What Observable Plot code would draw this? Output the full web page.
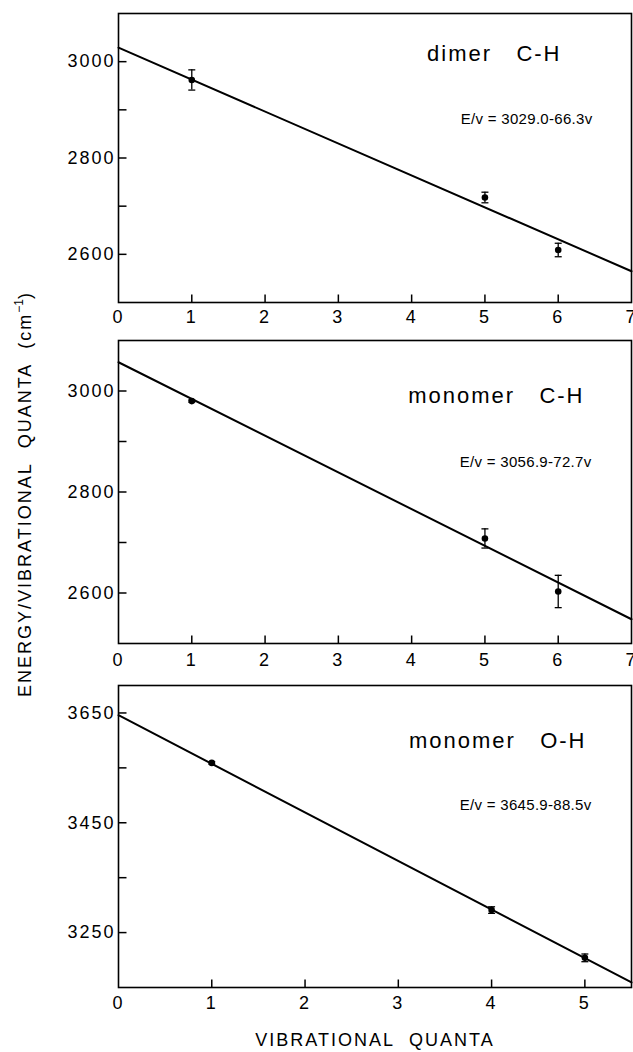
<!DOCTYPE html>
<html><head><meta charset="utf-8">
<script src="https://cdn.jsdelivr.net/npm/d3@7"></script>
<script src="https://cdn.jsdelivr.net/npm/@observablehq/plot@0.6"></script>
<style>
html,body{margin:0;padding:0;background:#fff;}
#wrap{position:relative;width:633px;height:1052px;overflow:hidden;font-family:"Liberation Sans",Arial,Helvetica,sans-serif;color:#000;background:#fff;}
.ytitle{position:absolute;left:-225px;top:484px;width:500px;height:20px;line-height:20px;text-align:center;transform:rotate(-90deg);transform-origin:50% 50%;font-size:18px;letter-spacing:2px;white-space:nowrap;}
.ytitle sup{font-size:12px;letter-spacing:0;vertical-align:0;position:relative;top:-8px;}
.xtitle{position:absolute;left:118px;top:1030px;width:514px;height:20px;line-height:20px;text-align:center;font-size:18px;letter-spacing:2px;white-space:nowrap;}
</style></head><body><div id="wrap"></div>
<script>
const FONT = '"Liberation Sans", Arial, Helvetica, sans-serif';

// ---- data ----
const panelNames = ["dimer\u00a0\u00a0\u00a0C-H", "monomer\u00a0\u00a0\u00a0C-H", "monomer\u00a0\u00a0\u00a0O-H"];
const equations = ["E/v = 3029.0-66.3v", "E/v = 3056.9-72.7v", "E/v = 3645.9-88.5v"];
const intercepts = [3029.0, 3056.9, 3645.9];
const slopes = [-66.3, -72.7, -88.5];
const quanta = [[1, 5, 6], [1, 5, 6], [1, 4, 5]];
const energies = [[2962, 2718, 2609], [2980, 2708, 2603], [3559, 3291, 3204]];
const errors = [[21, 11, 14], [2, 19, 32], [2, 6, 7]];
const xDomains = [[0, 7], [0, 7], [0, 5.5]];
const yDomains = [[2500, 3100], [2500, 3100], [3150, 3700]];
const xTickLabels = [[0, 1, 2, 3, 4, 5, 6, 7], [0, 1, 2, 3, 4, 5, 6, 7], [0, 1, 2, 3, 4, 5]];
const xTicks = [[1, 2, 3, 4, 5, 6], [1, 2, 3, 4, 5, 6], [1, 2, 3, 4, 5]];
const yTickLabels = [[2600, 2800, 3000], [2600, 2800, 3000], [3250, 3450, 3650]];
const yTicks = [[2600, 2700, 2800, 2900, 3000], [2600, 2700, 2800, 2900, 3000], [3250, 3350, 3450, 3550, 3650]];
const yTitle = "ENERGY/VIBRATIONAL\u00a0\u00a0QUANTA\u00a0\u00a0(cm";
const xTitle = "VIBRATIONAL\u00a0\u00a0QUANTA";

// ---- layout ----
const W = 633, ML = 118, MR = 2, TICK = 8;
const layouts = [
  {top: 0, mt: 13, h: 327, mb: 25, xpad: 8, name: [-70, 40], eq: [-39, 106]},
  {top: 327, mt: 13, h: 341, mb: 25, xpad: 10, name: [-47, 55], eq: [-40, 122]},
  {top: 668, mt: 17, h: 349, mb: 30, xpad: 9, name: [-45, 55], eq: [-40, 120]}
];

const capSymbol = {
  draw(context, size) {
    const r = Math.sqrt(size / Math.PI);
    context.moveTo(-r, 0);
    context.lineTo(r, 0);
  }
};
const tickRight = {draw(context) { context.moveTo(0, 0); context.lineTo(TICK, 0); }};
const tickUp = {draw(context) { context.moveTo(0, 0); context.lineTo(0, -TICK); }};

const wrap = document.getElementById("wrap");

layouts.forEach((L, i) => {
  const pts = quanta[i].map((x, j) => ({x, y: energies[i][j], err: errors[i][j]}));
  const xd = xDomains[i];
  const fit = xd.map(x => ({x, y: intercepts[i] + slopes[i] * x}));
  const chart = Plot.plot({
    width: W,
    height: L.h,
    marginLeft: ML,
    marginRight: MR,
    marginTop: L.mt,
    marginBottom: L.mb,
    x: {domain: xd},
    y: {domain: yDomains[i]},
    style: {fontFamily: FONT, fontSize: "18px", color: "#000", background: "#fff", overflow: "visible", letterSpacing: "2px"},
    marks: [
      Plot.axisY({ticks: yTickLabels[i], tickSize: 0, tickPadding: 3, label: null, tickFormat: d => String(d)}),
      Plot.axisX({ticks: xTickLabels[i], tickSize: 0, tickPadding: L.xpad, label: null, tickFormat: d => String(d)}),
      Plot.dot(yTicks[i], {y: d => d, frameAnchor: "left", symbol: tickRight, r: 4, fill: "none", stroke: "#000", strokeWidth: 1.5}),
      Plot.dot(xTicks[i], {x: d => d, frameAnchor: "bottom", symbol: tickUp, r: 4, fill: "none", stroke: "#000", strokeWidth: 1.5}),
      Plot.line(fit, {x: "x", y: "y", stroke: "#000", strokeWidth: 2}),
      Plot.ruleX(pts, {x: "x", y1: d => d.y - d.err, y2: d => d.y + d.err, stroke: "#000", strokeWidth: 1.3}),
      Plot.dot(pts, {x: "x", y: d => d.y - d.err, symbol: capSymbol, r: 3.5, fill: "none", stroke: "#000", strokeWidth: 1.3}),
      Plot.dot(pts, {x: "x", y: d => d.y + d.err, symbol: capSymbol, r: 3.5, fill: "none", stroke: "#000", strokeWidth: 1.3}),
      Plot.dot(pts, {x: "x", y: "y", r: 3.3, fill: "#000", stroke: "none"}),
      Plot.frame({stroke: "#000", strokeWidth: 1.6}),
      Plot.text([panelNames[i]], {text: d => d, frameAnchor: "top-right", textAnchor: "end", lineAnchor: "middle", dx: L.name[0], dy: L.name[1], fontSize: 22, fill: "#000"}),
      Plot.text([equations[i]], {text: d => d, frameAnchor: "top-right", textAnchor: "end", lineAnchor: "middle", dx: L.eq[0], dy: L.eq[1], fontSize: 15, fill: "#000"})
    ]
  });
  d3.select(chart).selectAll("text").each(function() {
    const t = this.textContent;
    if (equations.includes(t)) this.style.letterSpacing = "0.3px";
    else if (panelNames.includes(t)) this.style.letterSpacing = "2px";
  });
  chart.style.position = "absolute";
  chart.style.top = L.top + "px";
  chart.style.left = "0px";
  wrap.appendChild(chart);
});

const yt = document.createElement("div");
yt.className = "ytitle";
yt.textContent = yTitle;
const sup = document.createElement("sup");
sup.textContent = "\u22121";
yt.appendChild(sup);
yt.appendChild(document.createTextNode(")"));
wrap.appendChild(yt);

const xt = document.createElement("div");
xt.className = "xtitle";
xt.textContent = xTitle;
wrap.appendChild(xt);
</script>
</body></html>
